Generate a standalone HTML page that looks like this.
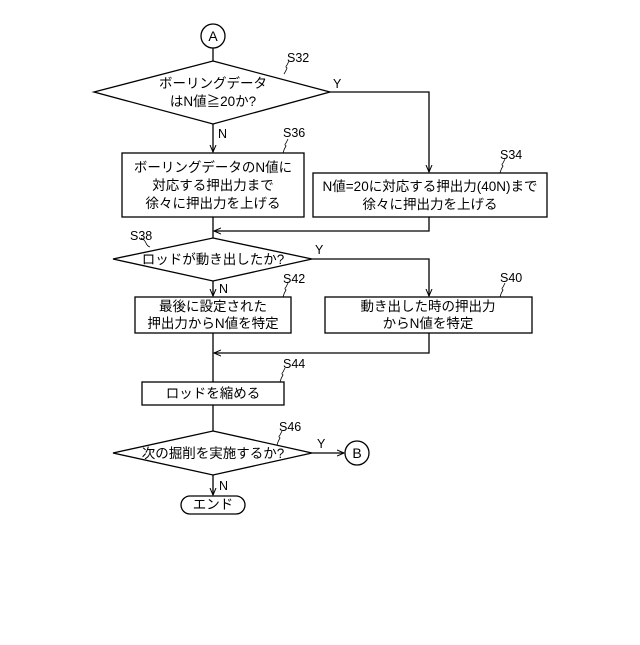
<!DOCTYPE html>
<html><head><meta charset="utf-8"><style>
html,body{margin:0;padding:0;background:#fff}
text{font-family:"Liberation Sans","Noto Sans CJK JP",sans-serif;fill:#000}
</style></head><body>
<svg width="640" height="640" viewBox="0 0 640 640" xmlns="http://www.w3.org/2000/svg">
<defs><marker id="a" markerWidth="8" markerHeight="8" refX="7" refY="4" orient="auto" markerUnits="userSpaceOnUse"><path d="M0,1 L7,4 L0,7" fill="none" stroke="#000" stroke-width="1"/></marker></defs>
<g fill="none" stroke="#000" stroke-width="1.3">
<circle cx="213" cy="36" r="12"/>
<line x1="213" y1="48" x2="213" y2="61"/>
<polygon points="213,61 330,92 213,124 94,92"/>
<line x1="213" y1="124" x2="213" y2="152" marker-end="url(#a)"/>
<polyline points="330,92 429,92 429,172" marker-end="url(#a)"/>
<rect x="122" y="153" width="182" height="64"/>
<rect x="313" y="173" width="234" height="44"/>
<line x1="213" y1="217" x2="213" y2="238"/>
<polyline points="429,217 429,231 214,231" marker-end="url(#a)"/>
<polygon points="213,238 312,259 213,281 113,259"/>
<line x1="213" y1="281" x2="213" y2="296" marker-end="url(#a)"/>
<polyline points="312,259 429,259 429,296" marker-end="url(#a)"/>
<rect x="135" y="297" width="156" height="36"/>
<rect x="325" y="297" width="207" height="36"/>
<line x1="213" y1="333" x2="213" y2="382"/>
<polyline points="429,333 429,353 214,353" marker-end="url(#a)"/>
<rect x="142" y="382" width="142" height="23"/>
<line x1="213" y1="405" x2="213" y2="431"/>
<polygon points="213,431 312,453 213,475 113,453"/>
<line x1="312" y1="453" x2="344" y2="453" marker-end="url(#a)"/>
<circle cx="357" cy="453" r="12"/>
<line x1="213" y1="475" x2="213" y2="495" marker-end="url(#a)"/>
<rect x="181" y="496" width="64" height="18" rx="9"/>
<g stroke-width="0.8">
<path d="M284,74 q2,-3 3,-6 q-2,-1 0,-3 l2,-4"/>
<path d="M283,153 q1,-4 3,-7 q-2,-1 0,-3 l2,-4"/>
<path d="M500,173 q1,-4 3,-7 q-2,-1 0,-3 l2,-4"/>
<path d="M150,247 q-3,-1 -4,-4 q-1,-2 -2,-3 l-3,-2"/>
<path d="M283,297 q1,-4 3,-7 q-2,-1 0,-3 l2,-4"/>
<path d="M500,297 q1,-4 3,-7 q-2,-1 0,-3 l2,-4"/>
<path d="M280,382 q1,-4 3,-7 q-2,-1 0,-3 l2,-4"/>
<path d="M277,445 q1,-4 3,-7 q-2,-1 0,-3 l2,-4"/>
</g>
</g>
<g font-size="13.5" text-anchor="middle">
<text x="213" y="41" font-size="14">A</text>
<text x="357" y="458" font-size="14">B</text>
<text x="213" y="88">ボーリングデータ</text>
<text x="213" y="106">はN値≧20か?</text>
<text x="213" y="172">ボーリングデータのN値に</text>
<text x="213" y="190">対応する押出力まで</text>
<text x="213" y="208">徐々に押出力を上げる</text>
<text x="430" y="191">N値=20に対応する押出力(40N)まで</text>
<text x="430" y="209">徐々に押出力を上げる</text>
<text x="213" y="264">ロッドが動き出したか?</text>
<text x="213" y="311">最後に設定された</text>
<text x="213" y="328">押出力からN値を特定</text>
<text x="428" y="311">動き出した時の押出力</text>
<text x="428" y="328">からN値を特定</text>
<text x="213" y="398">ロッドを縮める</text>
<text x="213" y="458">次の掘削を実施するか?</text>
<text x="213" y="509">エンド</text>
</g>
<g font-size="12.5">
<text x="287" y="62">S32</text>
<text x="283" y="137">S36</text>
<text x="500" y="159">S34</text>
<text x="130" y="240">S38</text>
<text x="283" y="283">S42</text>
<text x="500" y="282">S40</text>
<text x="283" y="368">S44</text>
<text x="279" y="431">S46</text>
<text x="333" y="88">Y</text>
<text x="218" y="138">N</text>
<text x="315" y="254">Y</text>
<text x="219" y="293">N</text>
<text x="317" y="448">Y</text>
<text x="219" y="490">N</text>
</g>
</svg>
</body></html>
